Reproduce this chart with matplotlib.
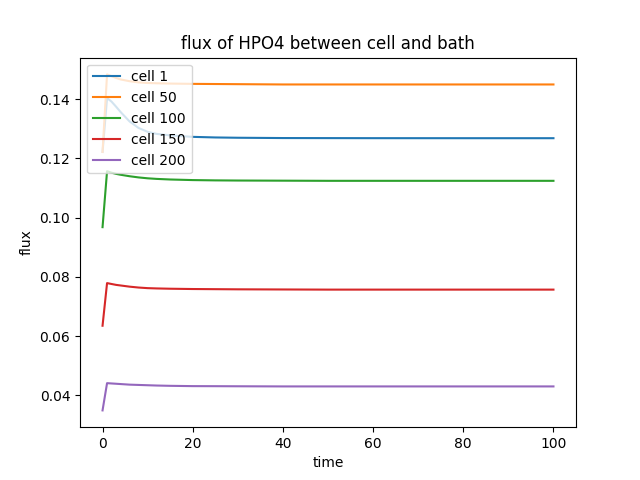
import numpy as np
import matplotlib
matplotlib.use('Agg')
import matplotlib.pyplot as plt

# time points
time = [0, 1, 2, 3, 4, 6, 8, 10, 12, 15, 20, 25, 30, 40, 50, 60, 80, 100]

flux_cell1 = [0.1222, 0.1404, 0.1392, 0.1375, 0.1357, 0.1325, 0.1303, 0.1290, 0.1283,
              0.1278, 0.1273, 0.1271, 0.1270, 0.1269, 0.12688, 0.12686, 0.12685, 0.12685]
flux_cell50 = [0.1222, 0.1484, 0.1478, 0.1472, 0.1467, 0.1461, 0.1457, 0.1455, 0.1454,
               0.1453, 0.1452, 0.14515, 0.1451, 0.1450, 0.1450, 0.1450, 0.1450, 0.1450]
flux_cell100 = [0.0968, 0.1157, 0.1152, 0.1148, 0.1145, 0.1140, 0.1136, 0.1133, 0.1131,
                0.1129, 0.1127, 0.1126, 0.11255, 0.1125, 0.11245, 0.11245, 0.11245, 0.11245]
flux_cell150 = [0.0635, 0.0779, 0.0776, 0.0773, 0.0771, 0.0767, 0.0764, 0.0762, 0.0761,
                0.0760, 0.0759, 0.07585, 0.0758, 0.07575, 0.0757, 0.0757, 0.0757, 0.0757]
flux_cell200 = [0.0349, 0.0441, 0.0440, 0.0439, 0.0438, 0.0436, 0.0435, 0.0434, 0.0433,
                0.0432, 0.0431, 0.04308, 0.04305, 0.0430, 0.0430, 0.0430, 0.0430, 0.0430]

labels = ['cell 1', 'cell 50', 'cell 100', 'cell 150', 'cell 200']
series = [flux_cell1, flux_cell50, flux_cell100, flux_cell150, flux_cell200]

fig, ax = plt.subplots(figsize=(6.4, 4.8), dpi=100)
for lab, vals in zip(labels, series):
    ax.plot(time, vals, label=lab)
ax.set_title('flux of HPO4 between cell and bath')
ax.set_xlabel('time')
ax.set_ylabel('flux')
ax.legend(loc='upper left')
plt.savefig('out.png')
